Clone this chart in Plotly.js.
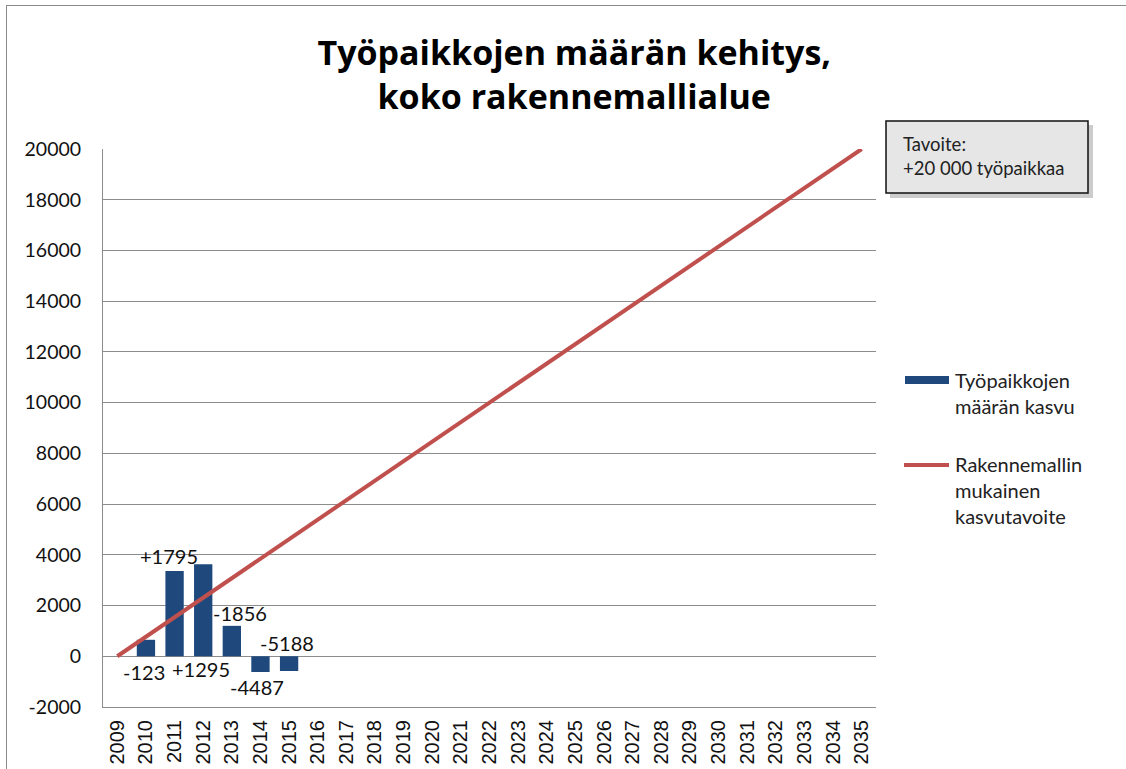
<!DOCTYPE html>
<html>
<head>
<meta charset="utf-8">
<script src="https://cdn.plot.ly/plotly-3.0.1.min.js"></script>
<style>
  html, body { margin: 0; padding: 0; background: #fff; overflow: hidden; }
  #chart { width: 1126px; height: 769px; position: absolute; left: 0; top: 0; }
  #frame { position: absolute; left: 6px; top: 5px; width: 1140px; height: 800px; border: 1.5px solid #8a8a8a; pointer-events: none; }
</style>
</head>
<body>
<div id="chart"></div>
<div id="frame"></div>
<script>
// ---- data ----
const years = ["2009","2010","2011","2012","2013","2014","2015","2016","2017","2018","2019","2020","2021","2022","2023","2024","2025","2026","2027","2028","2029","2030","2031","2032","2033","2034","2035"];
const barYears = ["2010","2011","2012","2013","2014","2015"];
const barValues = [650, 3360, 3630, 1200, -620, -580];
const barLabels = ["-123", "+1795", "+1295", "-1856", "-4487", "-5188"];
const targetValues = [0, 770, 1540, 2310, 3080, 3850, 4620, 5380, 6150, 6920, 7690, 8460, 9230, 10000, 10770, 11540, 12310, 13080, 13850, 14620, 15380, 16150, 16920, 17690, 18460, 19230, 20000];
const yTickValues = [-2000, 0, 2000, 4000, 6000, 8000, 10000, 12000, 14000, 16000, 18000, 20000];
const yTickLabels = ["-2000", "0", "2000", "4000", "6000", "8000", "10000", "12000", "14000", "16000", "18000", "20000"];
const seriesNames = ["Työpaikkojen<br>määrän kasvu", "Rakennemallin<br>mukainen<br>kasvutavoite"];
const titleText = "Työpaikkojen määrän kehitys,<br>koko rakennemallialue";
const boxText = "Tavoite:<br>+20 000 työpaikkaa";

// ---- styles ----
const W = 1126, H = 769;
const M = {l: 103, r: 250, t: 149, b: 62};
const pw = W - M.l - M.r, ph = H - M.t - M.b;
const px = x => (x - M.l) / pw;
const py = y => (H - M.b - y) / ph;
const barColor = "#1F497D";
const lineColor = "#C0504D";
const gridColor = "#8C8C8C";
const txtFont = "Lato, 'Open Sans', sans-serif";

// label placement: anchor to bar end ('bar') or zero line ('zero'), with pixel shifts
const labelPlacement = [
  {anchor: "zero", xs: -2, ys: -16},
  {anchor: "bar",  xs: -6, ys: 15},
  {anchor: "zero", xs: -2, ys: -13},
  {anchor: "bar",  xs: 8,  ys: 13},
  {anchor: "bar",  xs: -3, ys: -15},
  {anchor: "zero", xs: -2, ys: 13}
];

const traces = [
  {
    type: "bar", x: barYears, y: barValues, name: seriesNames[0],
    marker: {color: barColor}, width: 0.64, showlegend: false, hoverinfo: "x+y"
  },
  {
    type: "scatter", mode: "lines", x: years, y: targetValues, name: seriesNames[1],
    line: {color: lineColor, width: 4}, showlegend: false
  }
];

const annotations = barLabels.map((t, i) => {
  const p = labelPlacement[i];
  return {
    x: years.indexOf(barYears[i]), y: p.anchor === "bar" ? barValues[i] : 0,
    xref: "x", yref: "y", text: t, showarrow: false,
    xshift: p.xs, yshift: p.ys, xanchor: "center", yanchor: "middle",
    font: {family: txtFont, size: 20, color: "#111"}
  };
});

// custom legend texts
annotations.push({
  xref: "paper", yref: "paper", x: px(953), y: py(366), xanchor: "left", yanchor: "top",
  text: seriesNames[0], showarrow: false, align: "left",
  font: {family: txtFont, size: 20, color: "#222"}
});
annotations.push({
  xref: "paper", yref: "paper", x: px(953), y: py(450), xanchor: "left", yanchor: "top",
  text: seriesNames[1], showarrow: false, align: "left",
  font: {family: txtFont, size: 20, color: "#222"}
});
// target box text
annotations.push({
  xref: "paper", yref: "paper", x: px(901), y: py(131), xanchor: "left", yanchor: "top",
  text: boxText, showarrow: false, align: "left",
  font: {family: txtFont, size: 18.5, color: "#222"}
});

const shapes = [
  // legend symbols
  {type: "rect", xref: "paper", yref: "paper", x0: px(905), x1: px(949), y0: py(384), y1: py(376),
   fillcolor: barColor, line: {width: 0}},
  {type: "line", xref: "paper", yref: "paper", x0: px(904), x1: px(949), y0: py(465), y1: py(465),
   line: {color: lineColor, width: 4}},
  // box shadow
  {type: "rect", xref: "paper", yref: "paper", x0: px(890), x1: px(1093), y0: py(198), y1: py(125),
   fillcolor: "rgba(0,0,0,0.2)", line: {width: 0}},
  // box
  {type: "rect", xref: "paper", yref: "paper", x0: px(886), x1: px(1088), y0: py(193), y1: py(121),
   fillcolor: "#E6E6E6", line: {color: "#111", width: 1.5}}
];

const layout = {
  width: W, height: H,
  margin: M,
  paper_bgcolor: "#fff", plot_bgcolor: "#fff",
  showlegend: false,
  title: {
    text: titleText, x: 0.51, xanchor: "center", y: 1 - 65 / H, yanchor: "middle",
    font: {family: "'Open Sans', Lato, sans-serif", size: 34, color: "#000", weight: "bold"}
  },
  xaxis: {
    type: "category", categoryorder: "array", categoryarray: years,
    range: [-0.5, 26.5], tickangle: -90, showgrid: false,
    showline: true, linecolor: gridColor, linewidth: 1, ticks: "",
    tickfont: {family: "'Liberation Sans', Arial, sans-serif", size: 20, color: "#111"},
    ticklabelstandoff: 4, fixedrange: true
  },
  yaxis: {
    range: [-2000, 20000], tickvals: yTickValues, ticktext: yTickLabels,
    showgrid: true, gridcolor: gridColor, gridwidth: 1,
    zeroline: true, zerolinecolor: gridColor, zerolinewidth: 1,
    showline: true, linecolor: gridColor, linewidth: 1, ticks: "",
    tickfont: {family: txtFont, size: 19.5, color: "#111"},
    ticklabelstandoff: 17, fixedrange: true
  },
  bargap: 0.36,
  annotations: annotations,
  shapes: shapes
};

Plotly.newPlot("chart", traces, layout, {displayModeBar: false, staticPlot: true});
</script>
</body>
</html>
